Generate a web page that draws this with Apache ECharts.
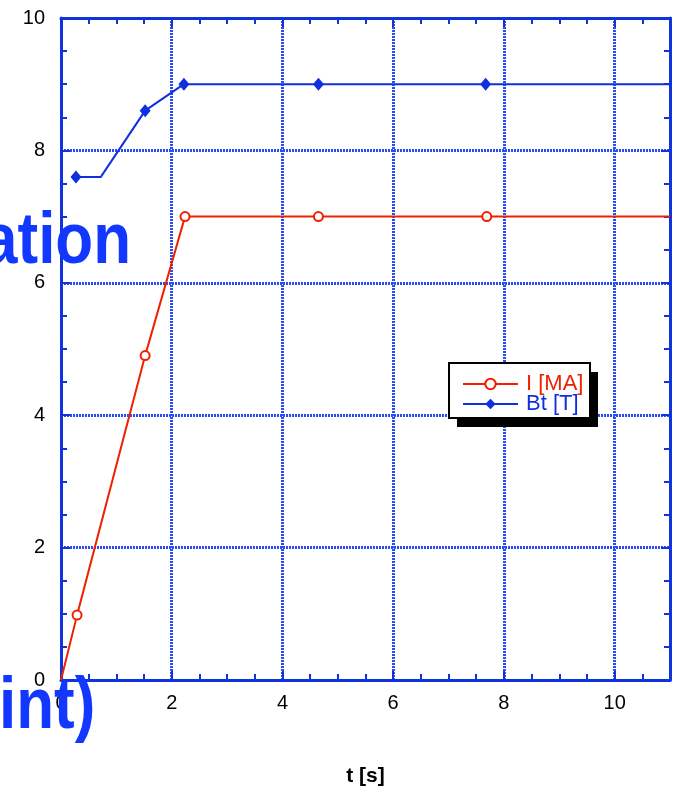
<!DOCTYPE html>
<html>
<head>
    <meta charset="utf-8">
    <title>ECharts</title>
    <script src="https://cdn.jsdelivr.net/npm/echarts@6/dist/echarts.min.js"></script>
</head>
<body style="margin:0">
    <div id="main" style="width: 673px;height:792px;"></div>
    <script type="text/javascript">

    // Bt [T] vs t [s]
    var tBt = [0.27, 0.72, 1.52, 2.22, 4.65, 7.67, 11];
    var bt = [7.6, 7.6, 8.6, 9.0, 9.0, 9.0, 9.0];
    var btMark = [true, false, true, true, true, true, false];

    // I [MA] vs t [s]
    var tI = [0, 0.29, 1.52, 2.24, 4.65, 7.69, 11];
    var ip = [0, 0.98, 4.9, 7.0, 7.0, 7.0, 7.0];
    var ipMark = [false, true, true, true, true, true, false];

    var xTicks = [0, 2, 4, 6, 8, 10];
    var yTicks = [0, 2, 4, 6, 8, 10];

    var blue = '#1133dd';
    var red = '#ee2200';
    var lineBlue = '#1030e0';
    var gridBlue = '#2a4cf0';
    var bigBlue = '#1238ff';

    function pts(xs, ys, marks) {
        var out = [];
        for (var i = 0; i < xs.length; i++) {
            var p = {value: [xs[i], ys[i]]};
            if (!marks[i]) p.symbol = 'none';
            out.push(p);
        }
        return out;
    }

    var myChart = echarts.init(document.getElementById('main'));

    var baseX = {
        type: 'value', min: 0, max: 11, interval: 2,
        axisLine: {show: true, onZero: false, lineStyle: {color: blue, width: 3}},
        axisTick: {show: true, inside: true, length: 9, lineStyle: {color: blue, width: 2}},
        minorTick: {show: true, splitNumber: 4, length: 6, lineStyle: {color: blue, width: 2}},
        splitLine: {show: false}
    };
    var baseY = {
        type: 'value', min: 0, max: 10, interval: 2,
        axisLine: {show: true, onZero: false, lineStyle: {color: blue, width: 3}},
        axisTick: {show: true, inside: true, length: 9, lineStyle: {color: blue, width: 2}},
        minorTick: {show: true, splitNumber: 4, length: 6, lineStyle: {color: blue, width: 2}},
        splitLine: {show: false}
    };

    var option = {
        backgroundColor: '#fff',
        animation: false,
        grid: {left: 61, right: 3, top: 18, bottom: 111},
        legend: {
            orient: 'vertical',
            left: 462, top: 373,
            padding: 0,
            itemGap: -2,
            itemWidth: 55, itemHeight: 13,
            z: 20,
            textStyle: {fontFamily: 'Liberation Sans', fontSize: 22, lineHeight: 19, padding: [0, 0, 0, 3]},
            data: [
                {name: 'I [MA]', textStyle: {color: red}},
                {name: 'Bt [T]', textStyle: {color: lineBlue}}
            ]
        },
        xAxis: [
            Object.assign({}, baseX, {
                position: 'bottom',
                name: 't [s]', nameLocation: 'middle', nameGap: 86,
                nameTextStyle: {color: '#000', fontSize: 21, fontWeight: 'bold', fontFamily: 'Liberation Sans'},
                axisLabel: {color: '#000', fontSize: 20, fontFamily: 'Liberation Sans', margin: 13,
                    formatter: function (v) { return xTicks.indexOf(v) >= 0 ? v : ''; }},
                splitLine: {show: true, lineStyle: {color: gridBlue, width: 3, type: [2, 1]}}
            }),
            Object.assign({}, baseX, {position: 'top', axisLabel: {show: false}})
        ],
        yAxis: [
            Object.assign({}, baseY, {
                position: 'left',
                axisLabel: {color: '#000', fontSize: 20, fontFamily: 'Liberation Sans', margin: 16,
                    formatter: function (v) { return yTicks.indexOf(v) >= 0 ? v : ''; }},
                splitLine: {show: true, lineStyle: {color: gridBlue, width: 3, type: [2, 1]}}
            }),
            Object.assign({}, baseY, {position: 'right', axisLabel: {show: false}})
        ],
        series: [
            {
                name: 'I [MA]', type: 'line', data: pts(tI, ip, ipMark),
                symbol: 'emptyCircle', symbolSize: 9,
                lineStyle: {color: red, width: 2},
                itemStyle: {color: red, borderWidth: 1.5},
                z: 3
            },
            {
                name: 'Bt [T]', type: 'line', data: pts(tBt, bt, btMark),
                symbol: 'diamond', symbolSize: [11, 13],
                lineStyle: {color: lineBlue, width: 2},
                itemStyle: {color: lineBlue},
                z: 3
            }
        ],
        graphic: [
            // legend box with hard shadow
            {type: 'rect', z: 10, shape: {x: 457, y: 372, width: 141, height: 55}, style: {fill: '#000'}},
            {type: 'rect', z: 11, shape: {x: 449, y: 363, width: 141, height: 55},
                style: {fill: '#fff', stroke: '#000', lineWidth: 2}},
            // clipped title fragments over the plot
            {
                type: 'text', z: 100, x: 131, y: 207, scaleX: 0.86,
                style: {text: 'ation', fill: bigBlue, align: 'right', verticalAlign: 'top',
                    font: 'bold 72px "Liberation Sans"'}
            },
            {
                type: 'text', z: 100, x: -1, y: 672, scaleX: 0.86,
                style: {text: 'int)', fill: bigBlue, align: 'left', verticalAlign: 'top',
                    font: 'bold 72px "Liberation Sans"'}
            }
        ]
    };

    myChart.setOption(option);
    </script>
</body>
</html>
